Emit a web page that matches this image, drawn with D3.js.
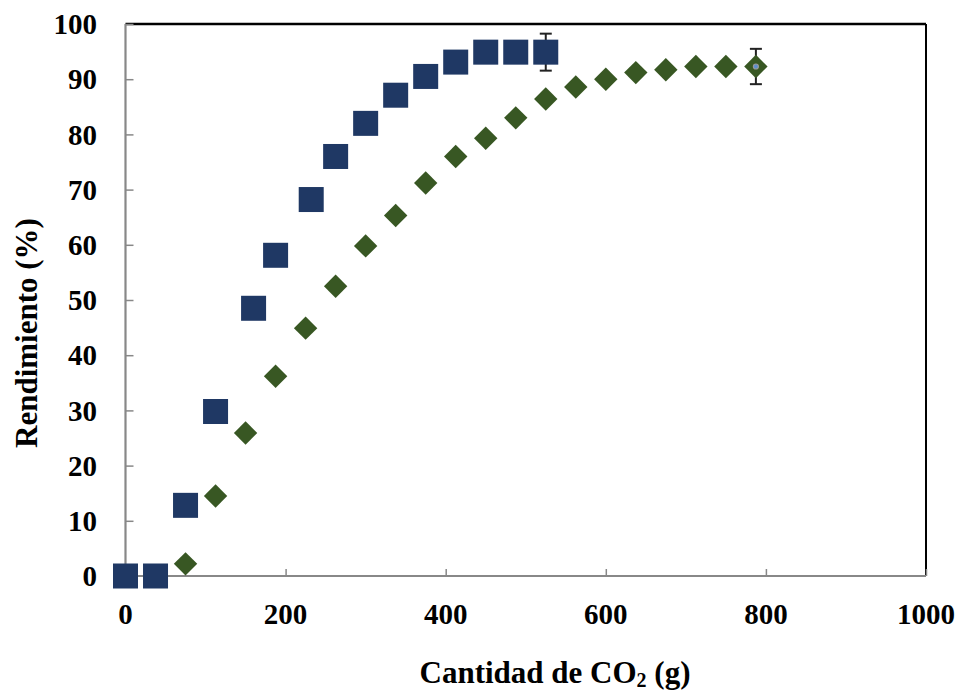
<!DOCTYPE html>
<html>
<head>
<meta charset="utf-8">
<script src="https://cdn.jsdelivr.net/npm/d3@7"></script>
<style>
  html, body { margin: 0; padding: 0; background: #fff; }
  svg { display: block; font-family: "Liberation Serif", "Times New Roman", serif; }
</style>
</head>
<body>
<svg id="chart" width="962" height="691"></svg>
<script>
// Yield vs. amount of CO2 for two runs
const squareX = [0, 37.5, 75, 112.5, 160, 187.5, 232, 262.5, 300, 337.5, 375, 412.5, 450, 487.5, 525];
const squareY = [0, 0, 12.8, 29.8, 48.5, 58.1, 68.2, 76.0, 82.0, 87.1, 90.5, 93.1, 94.9, 94.9, 94.9];
const diamondX = [75, 112.5, 150, 187.5, 225, 262.5, 300, 337.5, 375, 412.5, 450, 487.5, 525, 562.5, 600, 637.5, 675, 712.5, 750, 787.5];
const diamondY = [2.2, 14.5, 25.9, 36.2, 44.9, 52.5, 59.8, 65.3, 71.2, 76.0, 79.3, 83.0, 86.4, 88.6, 90.0, 91.2, 91.7, 92.3, 92.3, 92.3];
// error bars: [x, y, ±]
const errorBars = [[525, 94.9, 3.35], [787.5, 92.3, 3.2]];
const xTicks = [0, 200, 400, 600, 800, 1000];
const yTicks = [0, 10, 20, 30, 40, 50, 60, 70, 80, 90, 100];

const svg = d3.select("#chart");
const plotL = 125.5, plotR = 926, plotT = 24, plotB = 576;

const x = d3.scaleLinear().domain([0, 1000]).range([plotL, plotR]);
const y = d3.scaleLinear().domain([0, 100]).range([plotB, plotT]);

// frame: top and right in black
svg.append("line").attr("x1", plotL).attr("x2", plotR).attr("y1", plotT).attr("y2", plotT)
  .attr("stroke", "#000").attr("stroke-width", 2.5);
svg.append("line").attr("x1", plotR).attr("x2", plotR).attr("y1", plotT).attr("y2", plotB)
  .attr("stroke", "#000").attr("stroke-width", 2);

// y axis (ticks pointing inward)
const yAxis = svg.append("g").attr("transform", `translate(${plotL},0)`)
  .call(d3.axisRight(y).tickValues(yTicks).tickSize(8).tickFormat(""));
yAxis.select(".domain").remove();
yAxis.selectAll(".tick line").attr("stroke", "#888").attr("stroke-width", 1.5);
svg.append("line").attr("x1", plotL).attr("x2", plotL).attr("y1", plotT).attr("y2", plotB)
  .attr("stroke", "#888").attr("stroke-width", 2.2);

// x axis (ticks pointing inward)
const xAxis = svg.append("g").attr("transform", `translate(0,${plotB})`)
  .call(d3.axisTop(x).tickValues(xTicks).tickSize(7).tickFormat(""));
xAxis.select(".domain").remove();
xAxis.selectAll(".tick line").attr("stroke", "#888").attr("stroke-width", 1.5);
svg.append("line").attr("x1", plotL).attr("x2", plotR).attr("y1", plotB).attr("y2", plotB)
  .attr("stroke", "#888").attr("stroke-width", 2.2);

// tick labels
svg.append("g").selectAll("text").data(yTicks).join("text")
  .attr("x", 97).attr("y", d => y(d)).attr("dy", "0.35em")
  .attr("text-anchor", "end").attr("font-weight", "bold").attr("font-size", 29)
  .text(d => d);
svg.append("g").selectAll("text").data(xTicks).join("text")
  .attr("x", d => x(d)).attr("y", 624)
  .attr("text-anchor", "middle").attr("font-weight", "bold").attr("font-size", 29)
  .text(d => d);

// axis titles
const xt = svg.append("text").attr("x", 555).attr("y", 683)
  .attr("text-anchor", "middle").attr("font-weight", "bold").attr("font-size", 31);
xt.append("tspan").text("Cantidad de CO");
xt.append("tspan").attr("font-size", 20).attr("dy", 4).text("2");
xt.append("tspan").attr("dy", -4).text(" (g)");

svg.append("text").attr("transform", "translate(37,333) rotate(-90)")
  .attr("text-anchor", "middle").attr("font-weight", "bold").attr("font-size", 31)
  .text("Rendimiento (%)");

// error bars (behind markers)
const eb = svg.append("g").attr("stroke", "#222").attr("stroke-width", 2);
errorBars.forEach(([ex, ey, e]) => {
  eb.append("line").attr("x1", x(ex)).attr("x2", x(ex)).attr("y1", y(ey + e)).attr("y2", y(ey - e));
  eb.append("line").attr("x1", x(ex) - 6).attr("x2", x(ex) + 6).attr("y1", y(ey + e)).attr("y2", y(ey + e));
  eb.append("line").attr("x1", x(ex) - 6).attr("x2", x(ex) + 6).attr("y1", y(ey - e)).attr("y2", y(ey - e));
});

// squares
const sq = 25;
svg.append("g").selectAll("rect").data(squareX.map((d, i) => [d, squareY[i]])).join("rect")
  .attr("x", d => x(d[0]) - sq / 2).attr("y", d => y(d[1]) - sq / 2)
  .attr("width", sq).attr("height", sq).attr("fill", "#1F3864");

// diamonds
const h = 11.7;
svg.append("g").selectAll("path").data(diamondX.map((d, i) => [d, diamondY[i]])).join("path")
  .attr("d", d => {
    const cx = x(d[0]), cy = y(d[1]);
    return `M${cx},${cy - h}L${cx + h},${cy}L${cx},${cy + h}L${cx - h},${cy}Z`;
  })
  .attr("fill", "#385723");

// small centre marker on the last diamond
const last = diamondX.length - 1;
svg.append("circle").attr("cx", x(diamondX[last])).attr("cy", y(diamondY[last])).attr("r", 2.5)
  .attr("fill", "#5b8fd0").attr("stroke", "#9a9a9a").attr("stroke-width", 1.2);
</script>
</body>
</html>
